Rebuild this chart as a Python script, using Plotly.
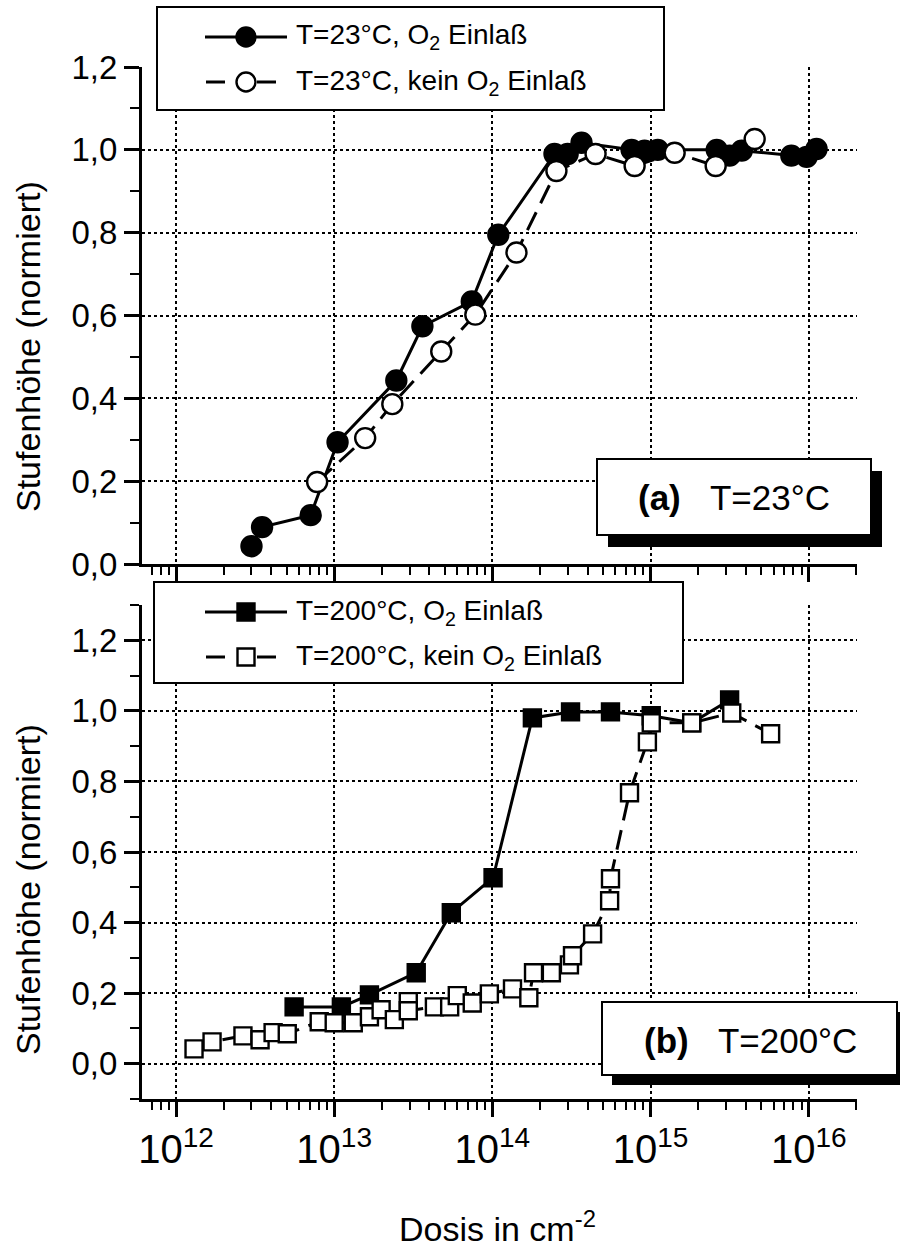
import plotly.graph_objects as go

# ---------------- data ----------------
# (a) T = 23 °C
dose_23_o2 = [3.0e12, 3.5e12, 7.1e12, 1.05e13, 2.47e13, 3.61e13, 7.41e13, 1.09e14,
              2.47e14, 2.99e14, 3.66e14, 7.59e14, 9.16e14, 1.11e15, 2.62e15, 3.16e15,
              3.77e15, 7.76e15, 9.70e15, 1.12e16]
step_23_o2 = [0.043, 0.089, 0.118, 0.294, 0.443, 0.574, 0.634, 0.795,
              0.990, 0.990, 1.017, 1.000, 0.998, 1.000, 1.000, 0.986,
              0.998, 0.986, 0.983, 1.002]

dose_23_no = [7.80e12, 1.57e13, 2.33e13, 4.75e13, 7.80e13, 1.42e14, 2.54e14, 4.49e14,
              7.93e14, 1.42e15, 2.58e15, 4.55e15]
step_23_no = [0.198, 0.304, 0.386, 0.513, 0.602, 0.752, 0.949, 0.990,
              0.961, 0.993, 0.961, 1.026]

# (b) T = 200 °C
dose_200_o2 = [5.58e12, 1.11e13, 1.67e13, 3.30e13, 5.50e13, 1.01e14, 1.79e14, 3.12e14,
               5.58e14, 1.01e15, 1.82e15, 3.16e15]
step_200_o2 = [0.161, 0.161, 0.195, 0.258, 0.428, 0.527, 0.980, 0.997,
               0.997, 0.986, 0.966, 1.031]

dose_200_no = [1.30e12, 1.69e12, 2.65e12, 3.40e12, 4.11e12, 5.05e12, 8.04e12, 1.00e13,
               1.32e13, 1.67e13, 1.98e13, 2.40e13, 2.94e13, 2.94e13, 4.30e13, 5.37e13,
               6.00e13, 7.46e13, 9.57e13, 1.34e14, 1.70e14, 1.82e14, 2.36e14, 3.07e14,
               3.21e14, 4.30e14, 5.51e14, 5.58e14, 7.36e14, 9.55e14, 1.01e15, 1.82e15,
               3.26e15, 5.74e15]
step_200_no = [0.042, 0.062, 0.079, 0.068, 0.088, 0.085, 0.119, 0.116,
               0.116, 0.133, 0.153, 0.125, 0.176, 0.150, 0.161, 0.161,
               0.193, 0.172, 0.198, 0.212, 0.187, 0.258, 0.258, 0.280,
               0.306, 0.368, 0.462, 0.524, 0.768, 0.912, 0.966, 0.966,
               0.994, 0.935]

legend_23 = ["T=23°C, O<sub>2</sub> Einlaß", "T=23°C, kein O<sub>2</sub> Einlaß"]
legend_200 = ["T=200°C, O<sub>2</sub> Einlaß", "T=200°C, kein O<sub>2</sub> Einlaß"]
panel_labels = ["<b>(a)</b>&nbsp;&nbsp;&nbsp;T=23°C", "<b>(b)</b>&nbsp;&nbsp;&nbsp;T=200°C"]
y_title = "Stufenhöhe (normiert)"
x_title = "Dosis in cm<sup>-2</sup>"

# ---------------- geometry ----------------
W, H = 900, 1248
ML, MR, MT, MB = 142, 43, 67, 149
FONT = "Liberation Sans, Arial, Helvetica, sans-serif"


def fx(p):
    return (p - ML) / (W - ML - MR)


def fy(p):
    return (H - MB - p) / (H - MT - MB)


LW = 3
DASH = "20px,10px"

fig = go.Figure()


def add_series(x, y, sym, size, filled, dashed, xa, ya):
    fig.add_trace(go.Scatter(
        x=x, y=y, xaxis=xa, yaxis=ya, mode="lines+markers",
        line=dict(color="black", width=LW, dash=DASH if dashed else "solid"),
        marker=dict(symbol=sym, size=size,
                    color="black" if filled else "white",
                    line=dict(color="black", width=2.4)),
        showlegend=False, cliponaxis=False))


add_series(dose_23_o2, step_23_o2, "circle", 20, True, False, "x", "y")
add_series(dose_23_no, step_23_no, "circle", 20, False, True, "x", "y")
add_series(dose_200_o2, step_200_o2, "square", 17, True, False, "x2", "y2")
add_series(dose_200_no, step_200_no, "square", 17, False, True, "x2", "y2")

xcommon = dict(
    type="log", range=[11.785, 16.305], dtick=1,
    showline=True, linewidth=3, linecolor="black",
    ticks="outside", ticklen=15, tickwidth=2.5, tickcolor="black",
    showgrid=True, gridcolor="black", griddash="dot", gridwidth=1.5,
    zeroline=False,
    minor=dict(ticks="outside", ticklen=8, tickwidth=2, tickcolor="black",
               dtick="D1", showgrid=False),
)
ycommon = dict(
    dtick=0.2, tick0=0, tickformat=".1f",
    showline=True, linewidth=3, linecolor="black",
    ticks="outside", ticklen=15, tickwidth=2.5, tickcolor="black",
    showgrid=True, gridcolor="black", griddash="dot", gridwidth=1.5,
    zeroline=False,
    tickfont=dict(size=33, color="black", family=FONT),
    minor=dict(ticks="outside", ticklen=9, tickwidth=2, tickcolor="black",
               dtick=0.1, showgrid=False),
)

top_dom = [fy(564), 1.0]
bot_dom = [0.0, fy(605)]

fig.update_layout(
    width=W, height=H,
    margin=dict(l=ML, r=MR, t=MT, b=MB),
    paper_bgcolor="white", plot_bgcolor="white",
    separators=",.",
    font=dict(family=FONT, color="black"),
    xaxis=dict(**xcommon, anchor="y", showticklabels=False),
    xaxis2=dict(**xcommon, anchor="y2", matches="x", showticklabels=True,
                exponentformat="power",
                tickfont=dict(size=32, color="black", family=FONT)),
    yaxis=dict(**ycommon, domain=top_dom, range=[0, 1.2], anchor="x"),
    yaxis2=dict(**ycommon, domain=bot_dom, range=[-0.1, 1.3], anchor="x2"),
)

shapes = []
annotations = []


def prect(x0, y0, x1, y1, fill, lw):
    shapes.append(dict(type="rect", xref="paper", yref="paper",
                       x0=fx(x0), x1=fx(x1), y0=fy(y1), y1=fy(y0),
                       fillcolor=fill, line=dict(color="black", width=lw),
                       layer="above"))


def pline(x0, x1, y):
    shapes.append(dict(type="line", xref="paper", yref="paper",
                       x0=fx(x0), x1=fx(x1), y0=fy(y), y1=fy(y),
                       line=dict(color="black", width=LW), layer="above"))


def pmarker(cx, cy, kind, d, filled):
    shapes.append(dict(type="circle" if kind == "circle" else "rect",
                       xref="paper", yref="paper",
                       xsizemode="pixel", ysizemode="pixel",
                       xanchor=fx(cx), yanchor=fy(cy),
                       x0=-d / 2, x1=d / 2, y0=-d / 2, y1=d / 2,
                       fillcolor="black" if filled else "white",
                       line=dict(color="black", width=2.4), layer="above"))


def ptext(x, y, text, size, xanchor="left", angle=0):
    annotations.append(dict(xref="paper", yref="paper", x=fx(x), y=fy(y),
                            text=text, showarrow=False, xanchor=xanchor,
                            yanchor="middle", textangle=angle,
                            font=dict(size=size, color="black", family=FONT)))


def legend_block(box, rows, kind, d, labels):
    prect(*box, "white", 2)
    (r1, r2) = rows
    pline(205, 287, r1)
    pmarker(246, r1, kind, d, True)
    ptext(294, r1, labels[0], 28)
    pline(206, 225, r2)
    pline(257, 276, r2)
    pmarker(246, r2, kind, d, False)
    ptext(294, r2, labels[1], 28)


legend_block((157, 7, 664, 110), (37, 82), "circle", 19, legend_23)
legend_block((154, 582, 683, 683), (612, 657), "square", 17, legend_200)

# panel label boxes with drop shadow
prect(608, 471, 882, 547, "black", 0)
prect(597, 459, 871, 535, "white", 2)
ptext(734, 498, panel_labels[0], 35, "center")
prect(612, 1012, 902, 1085, "black", 0)
prect(602, 1002, 897, 1075, "white", 2)
ptext(750, 1040, panel_labels[1], 35, "center")

# axis titles
ptext(28, 347, y_title, 34, "center", -90)
ptext(28, 890, y_title, 34, "center", -90)
ptext(497, 1226, x_title, 34, "center")

fig.update_layout(shapes=shapes, annotations=annotations)
fig.write_html("out.html")
